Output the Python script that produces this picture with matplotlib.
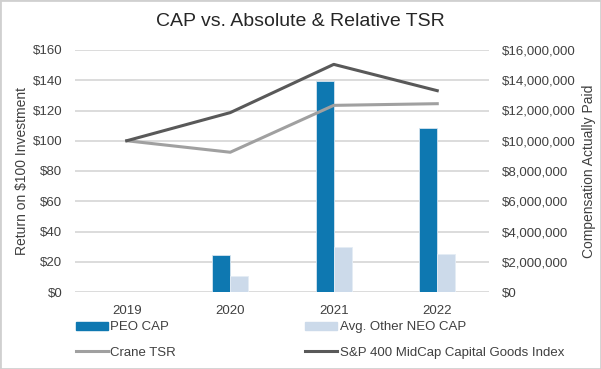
import matplotlib.pyplot as plt
import numpy as np
from matplotlib.patches import Rectangle
from matplotlib.lines import Line2D

years = ["2019", "2020", "2021", "2022"]
peo_cap = [0, 2450000, 13930000, 10840000]
neo_cap = [0, 1080000, 3000000, 2500000]
crane_tsr = [100, 92.4, 123.4, 124.5]
sp400 = [100, 118.6, 150.5, 133.1]

plt.rcParams['font.family'] = ['Liberation Sans', 'DejaVu Sans']
txt = '#404040'

fig = plt.figure(figsize=(6.01, 3.69), dpi=100)
fig.patches.append(Rectangle((0, 0), 1, 1, transform=fig.transFigure,
                             fill=False, edgecolor='#D0D0D0', linewidth=2))
ax = fig.add_axes([75 / 601, 1 - 292 / 369, 414 / 601, 242 / 369])
ax2 = ax.twinx()

x = np.arange(len(years))
w = 0.175
ax2.bar(x - w / 2, peo_cap, w, color='#0E78B1', edgecolor='#D6E4F0', linewidth=0.6,
        label='PEO CAP', zorder=2)
ax2.bar(x + w / 2, neo_cap, w, color='#CCDAEA', edgecolor='#E4ECF5', linewidth=0.6,
        label='Avg. Other NEO CAP', zorder=2)
ax2.set_ylim(0, 16000000)
ax2.set_yticks(np.arange(0, 16000001, 2000000))
ax2.set_yticklabels(['${:,.0f}'.format(v) for v in np.arange(0, 16000001, 2000000)])

ax.set_zorder(ax2.get_zorder() + 1)
ax.patch.set_visible(False)
ax.plot(x, crane_tsr, color='#A0A0A0', linewidth=2.2, label='Crane TSR')
ax.plot(x, sp400, color='#595959', linewidth=2.2, label='S&P 400 MidCap Capital Goods Index')
ax.set_ylim(0, 160)
ax.set_yticks(np.arange(0, 161, 20))
ax.set_yticklabels(['${}'.format(v) for v in range(0, 161, 20)])
ax.set_xlim(-0.5, 3.5)
ax.set_xticks(x)
ax.set_xticklabels(years)

# gridlines drawn on the bar axis so they sit under the bars
for v in np.arange(0, 16000001, 2000000):
    ax2.axhline(v, color='#D9D9D9', linewidth=1.3, zorder=1)

for a in (ax, ax2):
    for s in a.spines.values():
        s.set_visible(False)
    a.tick_params(length=0, colors=txt, labelsize=9.5)
ax.tick_params(axis='x', pad=9)
ax.tick_params(axis='y', pad=9)
ax2.tick_params(axis='y', pad=9)

ax.set_ylabel('Return on $100 Investment', color=txt, fontsize=10, labelpad=3)
ax2.set_ylabel('Compensation Actually Paid', color=txt, fontsize=10, labelpad=5)
fig.text(0.5, 1 - 22 / 369, 'CAP vs. Absolute & Relative TSR', ha='center', va='center',
         fontsize=14, color='#262626')

# column-major order so rows read PEO / NEO, then Crane / S&P
handles = [Rectangle((0, 0), 1, 1, color='#0E78B1'),
           Line2D([], [], color='#A0A0A0', linewidth=2.2),
           Rectangle((0, 0), 1, 1, color='#CCDAEA'),
           Line2D([], [], color='#595959', linewidth=2.2)]
labels = ['PEO CAP', 'Crane TSR', 'Avg. Other NEO CAP', 'S&P 400 MidCap Capital Goods Index']
leg = fig.legend(handles, labels, ncol=2, loc='center left',
                 bbox_to_anchor=(64 / 601, 1 - 340 / 369), frameon=False,
                 fontsize=9.5, labelcolor=txt, columnspacing=9.8, handlelength=2.4,
                 handletextpad=0.2, handleheight=0.55, labelspacing=1.0)

fig.savefig('out.png', dpi=100)
